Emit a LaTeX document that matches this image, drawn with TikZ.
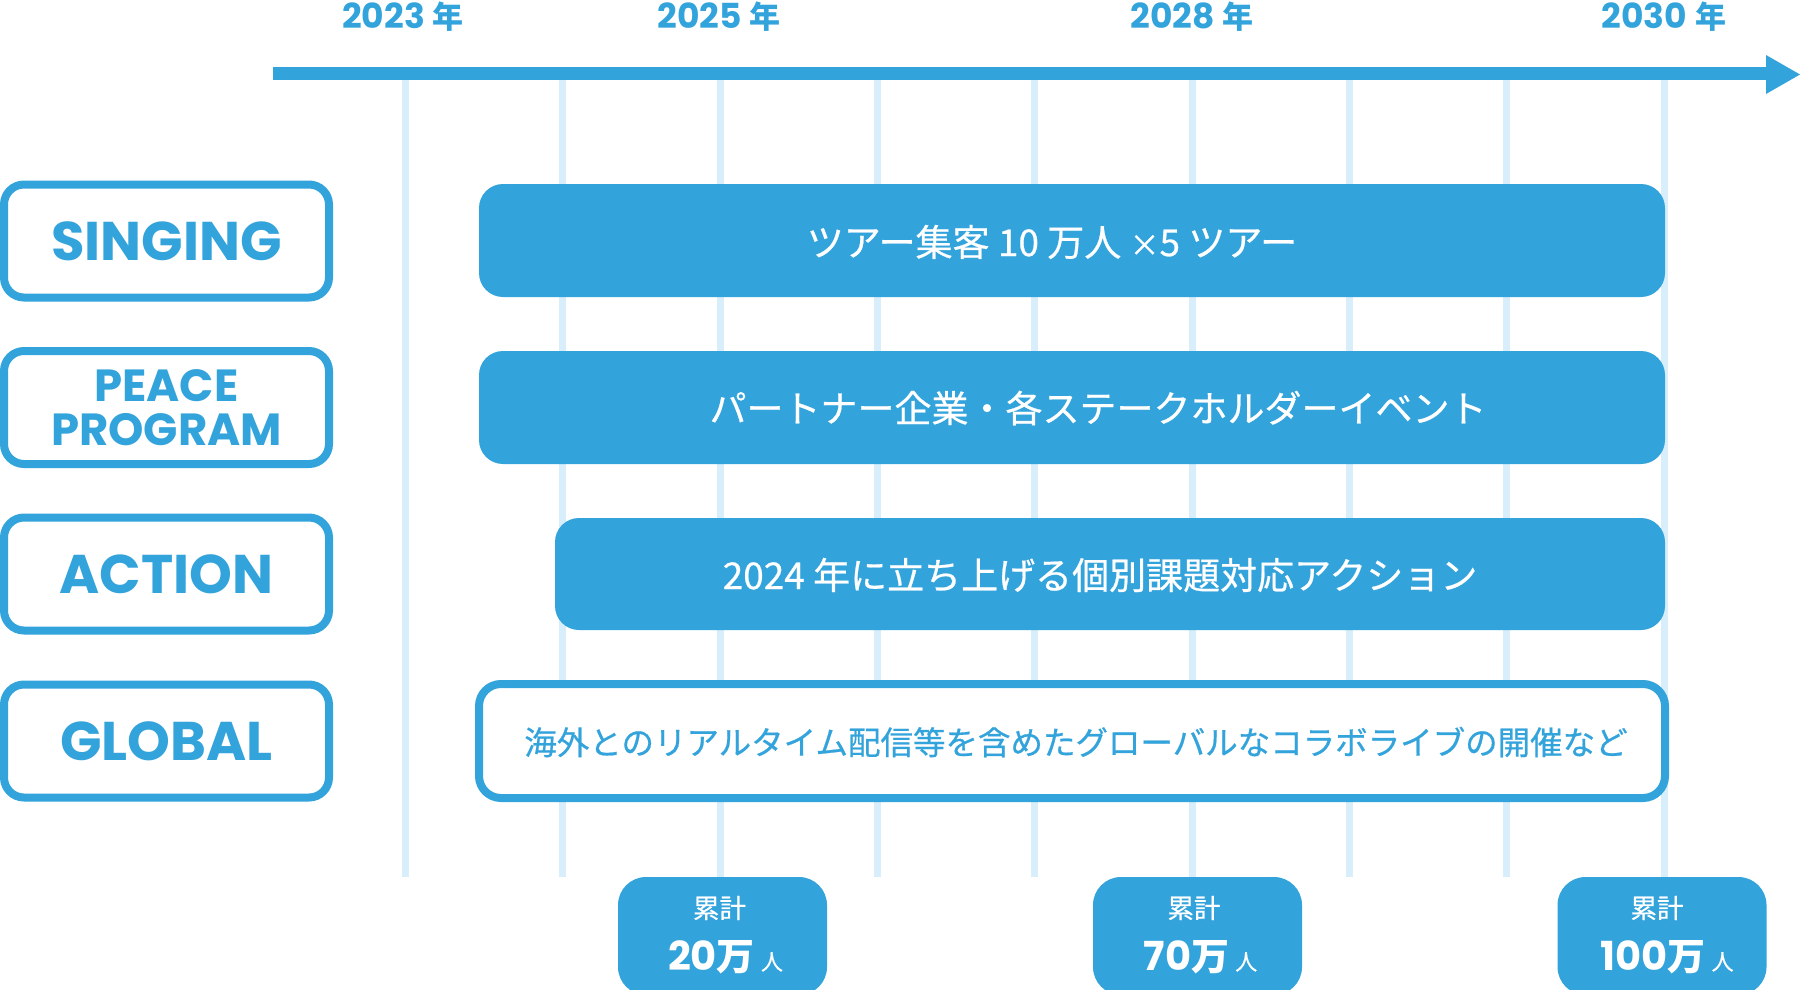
\documentclass[tikz,border=0pt]{standalone}
\usepackage{fontspec}
\newfontfamily\jp{Noto Sans CJK JP}
\newfontfamily\jpm{Noto Sans CJK JP}[FakeBold=0.6]
\newfontfamily\pop{Poppins}
\definecolor{mainblue}{HTML}{33A3DC}
\definecolor{gridblue}{HTML}{D8EEFA}
\tikzset{
  gridline/.style={draw=gridblue, line width=7pt},
  catbox/.style={draw=mainblue, line width=8pt, rounded corners=20pt, fill=white,
    minimum width=325pt, minimum height=113pt, inner sep=0pt, text=mainblue, align=center,
    font=\pop\bfseries\fontsize{54.5}{60}\selectfont},
  barbox/.style={fill=mainblue, rounded corners=24pt, minimum height=113pt, inner sep=0pt},
  outbox/.style={draw=mainblue, line width=8pt, fill=white, rounded corners=22pt, minimum height=114pt, inner sep=0pt},
  bartext/.style={text=white, inner sep=0pt, font=\jpm\fontsize{37}{44}\selectfont},
  globtext/.style={text=mainblue, inner sep=0pt, font=\jpm\fontsize{32.5}{40}\selectfont},
  yeartext/.style={text=mainblue, anchor=base, inner sep=0pt},
  sumbox/.style={fill=mainblue, rounded corners=28pt, minimum width=209pt, minimum height=118pt, inner sep=0pt},
  sumhead/.style={text=white, inner sep=0pt, font=\jpm\fontsize{26.5}{30}\selectfont},
  sumval/.style={text=white, anchor=base, inner sep=0pt}
}
\newcommand{\yearlbl}[1]{{\pop\bfseries\fontsize{34.5}{36}\selectfont #1}\hspace{8pt}{\jp\bfseries\fontsize{31}{36}\selectfont 年}}
\newcommand{\sumlbl}[1]{{\pop\bfseries\fontsize{40}{40}\selectfont #1}{\jp\bfseries\fontsize{38}{40}\selectfont 万}\hspace{6pt}{\jpm\fontsize{22}{24}\selectfont 人}}
\begin{document}
\begin{tikzpicture}[x=1pt,y=-1pt]
\useasboundingbox (0,0) rectangle (1800,989);
\clip (0,0) rectangle (1800,989);
% grid lines
\foreach \gx in {405,562,720,877,1034,1192,1349,1506,1664}
  \draw[gridline] (\gx,80) -- (\gx,877);
% time axis
\fill[mainblue] (273,67) rectangle (1768,80);
\fill[mainblue] (1766,55) -- (1800,74.5) -- (1766,94) -- cycle;
% year labels
\node[yeartext] (y2023) at (403,28) {\yearlbl{2023}};
\node[yeartext] (y2025) at (719,28) {\yearlbl{2025}};
\node[yeartext] (y2028) at (1192,28) {\yearlbl{2028}};
\node[yeartext] (y2030) at (1664,28) {\yearlbl{2030}};
% category boxes
\node[catbox] (singing) at (166.5,241) {SINGING};
\node[catbox, font=\pop\bfseries\fontsize{45}{44}\selectfont] (peace) at (166.5,407.5) {PEACE\\PROGRAM};
\node[catbox] (action) at (166.5,574) {ACTION};
\node[catbox] (global) at (166.5,741) {GLOBAL};
% bars
\node[barbox, minimum width=1186pt] (singbar) at (1072,240.5) {};
\node[bartext] (singtxt) at (1052,242) {ツアー集客 10 万人 {\fontsize{30}{30}\selectfont ×}5 ツアー};
\node[barbox, minimum width=1186pt] (peacebar) at (1072,407.5) {};
\node[bartext] (peacetxt) at (1098,408) {パートナー企業・各ステークホルダーイベント};
\node[barbox, minimum width=1110pt, minimum height=112pt] (actbar) at (1110,574) {};
\node[bartext] (acttxt) at (1100,575) {2024 年に立ち上げる個別課題対応アクション};
\node[outbox, minimum width=1186pt] (globbar) at (1072,741) {};
\node[globtext] (globtxt) at (1076,742) {海外とのリアルタイム配信等を含めたグローバルなコラボライブの開催など};
% summary boxes
\node[sumbox] (sum20) at (722.5,936) {};
\node[sumhead] (h20) at (719.5,908) {累計};
\node[sumval] (v20) at (725.5,970) {\sumlbl{20}};
\node[sumbox] (sum70) at (1197.5,936) {};
\node[sumhead] (h70) at (1194,908) {累計};
\node[sumval] (v70) at (1200.5,970) {\sumlbl{70}};
\node[sumbox] (sum100) at (1662,936) {};
\node[sumhead] (h100) at (1657,908) {累計};
\node[sumval] (v100) at (1667,970) {\sumlbl{100}};
\end{tikzpicture}
\end{document}
